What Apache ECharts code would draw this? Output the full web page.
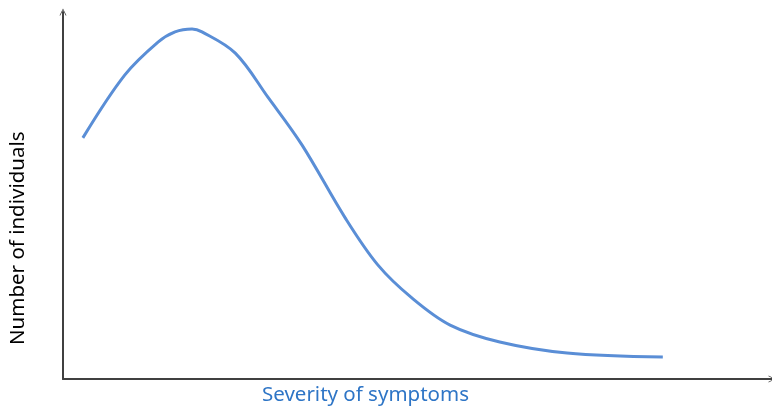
<!DOCTYPE html>
<html>
<head>
<meta charset="utf-8">
<script src="https://cdn.jsdelivr.net/npm/echarts@6/dist/echarts.min.js"></script>
<style>html,body{margin:0;padding:0;background:#fff;}#c{width:772px;height:412px;}</style>
</head>
<body>
<div id="c"></div>
<script>
// Severity (0-100 scale across the x axis) and number of individuals (0-100 scale)
var severity = [2.8, 8.7, 13.4, 15.8, 18.2, 19.6, 24.3, 28.9, 33.7, 39.8, 44.4, 49.2, 54.6, 61.6, 71.1, 84.6];
var individuals = [65.7, 82.8, 91.8, 94.6, 95.4, 94.6, 88.8, 76.8, 63.8, 43.9, 31.1, 22.1, 14.7, 10.1, 7.1, 6.0];
var xLabel = 'Severity of symptoms';
var yLabel = 'Number of individuals';

var pts = severity.map(function (v, i) { return [v, individuals[i]]; });
var chart = echarts.init(document.getElementById('c'));
var chevron = 'path://M0,12 L6,0 L12,12 L10.6,12 L6,2.6 L1.4,12 Z';
chart.setOption({
  animation: false,
  grid: { left: 63, right: 0, top: 12, bottom: 33 },
  xAxis: {
    type: 'value', min: 0, max: 100,
    axisLine: { show: true, lineStyle: { color: '#404040', width: 2 }, symbol: ['none', chevron], symbolSize: [9, 7] },
    axisTick: { show: false }, axisLabel: { show: false }, splitLine: { show: false }
  },
  yAxis: {
    type: 'value', min: 0, max: 100,
    axisLine: { show: true, lineStyle: { color: '#404040', width: 2 }, symbol: ['none', chevron], symbolSize: [9, 7] },
    axisTick: { show: false }, axisLabel: { show: false }, splitLine: { show: false }
  },
  series: [{
    type: 'line', data: pts, smooth: 0.35, showSymbol: false,
    lineStyle: { color: '#5A8ED6', width: 3 }
  }],
  graphic: [
    { type: 'text', left: 262, top: 385, style: { text: xLabel, fill: '#2E75C6', font: '20.5px "Noto Sans"' } },
    { type: 'text', x: 8, y: 345, rotation: Math.PI / 2, style: { text: yLabel, fill: '#000', font: '20.5px "Noto Sans"' } }
  ]
});
</script>
</body>
</html>
